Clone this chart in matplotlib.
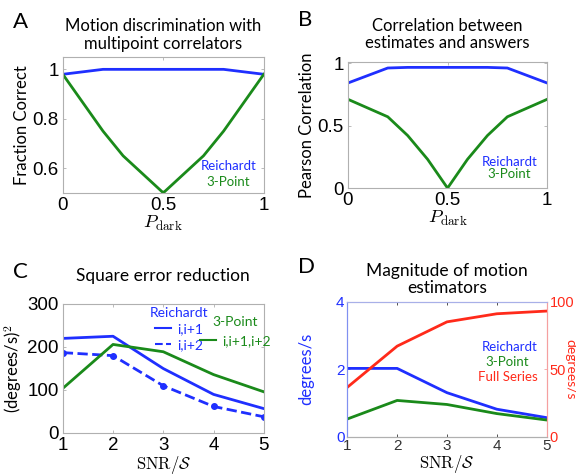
import matplotlib
matplotlib.use("Agg")
import matplotlib.pyplot as plt
from matplotlib.lines import Line2D

plt.rcParams["mathtext.fontset"] = "cm"

# ---------------- data ----------------
p_dark = [0, 0.1, 0.2, 0.3, 0.4, 0.5, 0.6, 0.7, 0.8, 0.9, 1.0]
a_reichardt = [0.98, 0.99, 1.0, 1.0, 1.0, 1.0, 1.0, 1.0, 1.0, 0.99, 0.98]
a_3point = [0.98, 0.865, 0.75, 0.65, 0.575, 0.5, 0.575, 0.65, 0.75, 0.865, 0.98]

b_reichardt = [0.84, 0.90, 0.96, 0.965, 0.965, 0.965, 0.965, 0.965, 0.96, 0.90, 0.84]
b_3point = [0.71, 0.64, 0.57, 0.42, 0.23, 0.0, 0.23, 0.42, 0.57, 0.64, 0.71]

snr = [1, 2, 3, 4, 5]
c_r_ii1 = [219, 224, 149, 89, 56]
c_r_ii2 = [186, 179, 109, 61, 37]
c_3p = [103, 205, 188, 135, 95]

d_reichardt = [2.02, 2.02, 1.30, 0.81, 0.56]
d_3point = [0.52, 1.07, 0.95, 0.68, 0.49]
d_full = [36.5, 67, 85, 91, 93]

BLUE = "#1f2fff"
GREEN = "#1a8a1a"
RED = "#ff2a1a"
FRAME = "#b0b0b0"

title_font = "Lato"
tick_font = "Liberation Sans"
LABEL_FS = 9.5

fig = plt.figure(figsize=(5.76, 4.75), dpi=100)


def style_axes(ax):
    for s in ax.spines.values():
        s.set_color(FRAME)
        s.set_linewidth(0.8)
    ax.tick_params(direction="in", length=2.5, width=0.6, color=FRAME,
                   labelsize=13.5, pad=3, top=True, right=True)
    for lab in ax.get_xticklabels() + ax.get_yticklabels():
        lab.set_fontfamily(tick_font)


def panel_label(ax, s, y):
    ax.text(-0.25, y, s, transform=ax.transAxes, fontsize=16,
            fontfamily=title_font, ha="left", va="baseline")


def series_label(ax, x, y, s, color):
    ax.text(x, y, s, color=color, transform=ax.transAxes, ha="right",
            va="center", fontsize=LABEL_FS, fontfamily=title_font)


# ---------------- A ----------------
axA = fig.add_axes([0.109, 0.594, 0.349, 0.286])
axA.plot(p_dark, a_reichardt, color=BLUE, lw=2)
axA.plot(p_dark, a_3point, color=GREEN, lw=2)
axA.set_xlim(0, 1)
axA.set_ylim(0.5, 1.05)
axA.set_xticks([0, 0.5, 1])
axA.set_xticklabels(["0", "0.5", "1"])
axA.set_yticks([0.6, 0.8, 1.0])
axA.set_yticklabels(["0.6", "0.8", "1"])
style_axes(axA)
axA.set_xlabel(r"$P_{\rm dark}$", fontsize=13.5, labelpad=0)
axA.set_ylabel("Fraction Correct", fontsize=12, fontfamily=title_font, labelpad=2)
axA.set_title("Motion discrimination with\nmultipoint correlators", fontsize=12,
              fontfamily=title_font, pad=6, linespacing=1.1)
series_label(axA, 0.965, 0.20, "Reichardt", BLUE)
series_label(axA, 0.93, 0.08, "3-Point", GREEN)
panel_label(axA, "A", 1.21)

# ---------------- B ----------------
axB = fig.add_axes([0.604, 0.604, 0.346, 0.266])
axB.plot(p_dark, b_reichardt, color=BLUE, lw=2)
axB.plot(p_dark, b_3point, color=GREEN, lw=2)
axB.set_xlim(0, 1)
axB.set_ylim(0, 1.01)
axB.set_xticks([0, 0.5, 1])
axB.set_xticklabels(["0", "0.5", "1"])
axB.set_yticks([0, 0.5, 1.0])
axB.set_yticklabels(["0", "0.5", "1"])
style_axes(axB)
axB.set_xlabel(r"$P_{\rm dark}$", fontsize=13.5, labelpad=0)
axB.set_ylabel("Pearson Correlation", fontsize=12, fontfamily=title_font, labelpad=2)
axB.set_title("Correlation between\nestimates and answers", fontsize=12,
              fontfamily=title_font, pad=10, linespacing=1.1)
series_label(axB, 0.95, 0.21, "Reichardt", BLUE)
series_label(axB, 0.92, 0.115, "3-Point", GREEN)
panel_label(axB, "B", 1.28)

# ---------------- C ----------------
axC = fig.add_axes([0.109, 0.089, 0.349, 0.272])
axC.plot(snr, c_r_ii1, color=BLUE, lw=2)
axC.plot(snr, c_r_ii2, color=BLUE, lw=2, ls="--", marker="o", ms=4)
axC.plot(snr, c_3p, color=GREEN, lw=2)
axC.set_xlim(1, 5)
axC.set_ylim(0, 300)
axC.set_xticks(snr)
axC.set_yticks([0, 100, 200, 300])
style_axes(axC)
axC.set_xlabel(r"$\mathrm{SNR}/\mathcal{S}$", fontsize=12, labelpad=0)
axC.set_ylabel(r"(degrees/s)$^2$", fontsize=12, fontfamily=title_font, labelpad=2)
axC.set_title("Square error reduction", fontsize=12.5, fontfamily=title_font, pad=16)
leg1 = axC.legend(handles=[Line2D([], [], color=BLUE, lw=1.5),
                           Line2D([], [], color=BLUE, lw=1.5, ls="--")],
                  labels=["i,i+1", "i,i+2"], title="Reichardt",
                  loc="upper left", bbox_to_anchor=(0.39, 1.04), frameon=False,
                  handlelength=1.2, handletextpad=0.4,
                  labelspacing=0.3, borderpad=0.1, prop={"family": title_font, "size": 10},
                  labelcolor=BLUE)
leg1.get_title().set_color(BLUE)
leg1.get_title().set_fontfamily(title_font)
leg1.get_title().set_fontsize(10)
axC.add_artist(leg1)
leg2 = axC.legend(handles=[Line2D([], [], color=GREEN, lw=1.5)],
                  labels=["i,i+1,i+2"], title="3-Point",
                  loc="upper left", bbox_to_anchor=(0.64, 0.97), frameon=False,
                  handlelength=1.2, handletextpad=0.4, borderpad=0.1,
                  prop={"family": title_font, "size": 10}, labelcolor=GREEN)
leg2.get_title().set_color(GREEN)
leg2.get_title().set_fontfamily(title_font)
leg2.get_title().set_fontsize(10)
panel_label(axC, "C", 1.20)

# ---------------- D ----------------
axD = fig.add_axes([0.603, 0.081, 0.346, 0.284])
axD.plot(snr, d_reichardt, color=BLUE, lw=2)
axD.plot(snr, d_3point, color=GREEN, lw=2)
axD.set_xlim(1, 5)
axD.set_ylim(0, 4)
axD.set_xticks(snr)
axD.set_yticks([0, 2, 4])
axD2 = axD.twinx()
axD2.plot(snr, d_full, color=RED, lw=2)
axD2.set_ylim(0, 100)
axD2.set_yticks([0, 50, 100])
for ax in (axD, axD2):
    for s in ax.spines.values():
        s.set_linewidth(0.8)
    ax.spines["bottom"].set_color(FRAME)
    ax.spines["top"].set_color("#a8b0e8")
    ax.spines["left"].set_color("#8090f0")
    ax.spines["right"].set_color("#f5a0a0")
axD.tick_params(direction="in", length=2.5, width=0.6, color=FRAME, labelsize=11, pad=2, top=True)
axD.tick_params(axis="y", colors=BLUE, color="#8090f0", pad=2)
axD.tick_params(axis="x", colors="#333333")
axD2.tick_params(direction="in", length=2.5, width=0.6, labelsize=10.5, pad=2,
                 colors=RED, color="#f5a0a0")
for lab in axD.get_xticklabels() + axD.get_yticklabels() + axD2.get_yticklabels():
    lab.set_fontfamily(tick_font)
axD.set_xlabel(r"$\mathrm{SNR}/\mathcal{S}$", fontsize=12, labelpad=0)
axD.set_ylabel("degrees/s", fontsize=12, color=BLUE, fontfamily=title_font, labelpad=16)
axD2.set_ylabel("degrees/s", fontsize=10, color=RED, fontfamily=title_font,
                rotation=270, labelpad=2)
axD.set_title("Magnitude of motion\nestimators", fontsize=12.5, fontfamily=title_font,
              pad=6, linespacing=1.1)
series_label(axD, 0.953, 0.667, "Reichardt", BLUE)
series_label(axD, 0.913, 0.556, "3-Point", GREEN)
series_label(axD, 0.953, 0.444, "Full Series", RED)
panel_label(axD, "D", 1.21)

fig.savefig("out.png", dpi=100)
